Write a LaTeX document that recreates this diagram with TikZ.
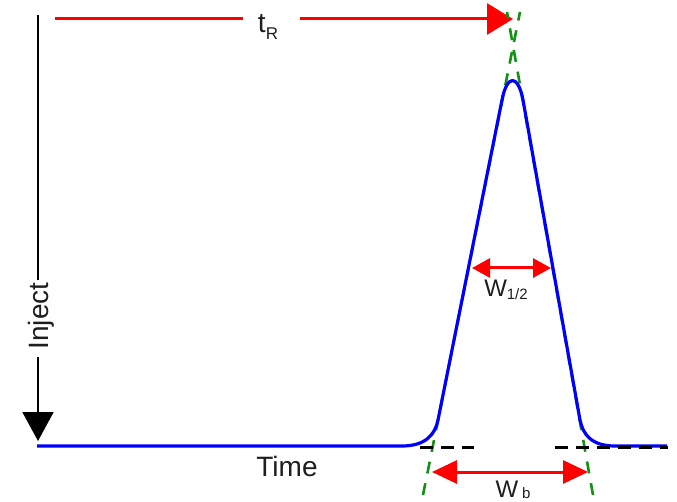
\documentclass[tikz,border=0pt]{standalone}
\usepackage{fontspec}
\setmainfont{Liberation Sans}
\usetikzlibrary{arrows.meta}
\definecolor{pkred}{RGB}{255,0,0}
\definecolor{pkblue}{RGB}{0,0,255}
\definecolor{pkgreen}{RGB}{20,145,20}
\definecolor{txt}{RGB}{30,30,30}
\begin{document}
\begin{tikzpicture}[x=1pt,y=-1pt,
  lbl/.style={text=txt, inner sep=0pt, anchor=base},
  bigtxt/.style={font=\fontsize{28}{30}\selectfont},
  wtxt/.style={font=\fontsize{24}{26}\selectfont},
  redline/.style={draw=pkred, line width=3pt},
  widtharrow/.style={redline, {Triangle[length=18pt,width=19pt]}-{Triangle[length=18pt,width=19pt]}},
  basearrow/.style={redline, {Triangle[length=25pt,width=23pt]}-{Triangle[length=25pt,width=23pt]}},
  greentangent/.style={draw=pkgreen, line width=2.6pt, dash pattern=on 12pt off 10pt},
  basedash/.style={draw=black, line width=3pt, dash pattern=on 13pt off 8pt},
  peakline/.style={draw=pkblue, line width=3.2pt, line join=round}]
\useasboundingbox (0,0) rectangle (677,502);

% retention time arrow
\node[lbl, bigtxt] (tR) at (268,33) {t\raisebox{-0.24em}{\fontsize{17}{17}\selectfont R}};
\coordinate (tRstart) at (55,19);
\coordinate (tRa) at (243,19);
\coordinate (tRb) at (300,19);
\coordinate (tRend) at (513,19);
\draw[redline] (tRstart) -- (tRa);
\draw[redline, -{Triangle[length=26pt,width=31pt]}] (tRb) -- (tRend);

% inject arrow
\node[lbl, bigtxt, rotate=90] (inject) at (48,316) {Inject};
\coordinate (injTop) at (38,15);
\coordinate (injGapA) at (38,280);
\coordinate (injGapB) at (38,357);
\coordinate (injTip) at (38,441);
\draw[black, line width=2pt] (injTop) -- (injGapA);
\draw[black, line width=2pt, -{Triangle[length=29pt,width=31pt]}] (injGapB) -- (injTip);

% tangent lines
\coordinate (gLbot) at (423,495);
\coordinate (gLtop) at (520,12);
\coordinate (gRbot) at (593,495);
\coordinate (gRtop) at (507,12);
\draw[greentangent] (gLbot) -- (gLtop);
\draw[greentangent] (gRbot) -- (gRtop);

% peak
\draw[peakline] (37,446) -- (402,446)
  .. controls (425,446) and (435,435) .. (438,420)
  -- (502,100)
  .. controls (507,74) and (518,74) .. (523,100)
  -- (580,420)
  .. controls (583,435) and (592,446) .. (615,446)
  -- (667,446);

% dashed baseline
\coordinate (bdA1) at (420,447);
\coordinate (bdA2) at (474,447);
\coordinate (bdB1) at (555,447);
\coordinate (bdB2) at (668,447);
\draw[basedash] (bdA1) -- (bdA2);
\draw[basedash] (bdB1) -- (bdB2);

% half width
\coordinate (whL) at (472,268);
\coordinate (whR) at (551,268);
\draw[widtharrow] (whL) -- (whR);
\node[lbl, wtxt] (whalf) at (506,297) {W\raisebox{-0.12em}{\fontsize{15}{15}\selectfont 1/2}};

% base width
\coordinate (wbL) at (432,472);
\coordinate (wbR) at (588,472);
\draw[basearrow] (wbL) -- (wbR);
\node[lbl, wtxt] (wbase) at (513,497) {W\hspace{4pt}\raisebox{-0.05em}{\fontsize{15}{15}\selectfont b}};

% time label
\node[lbl, bigtxt] (time) at (287,476) {Time};
\end{tikzpicture}
\end{document}
